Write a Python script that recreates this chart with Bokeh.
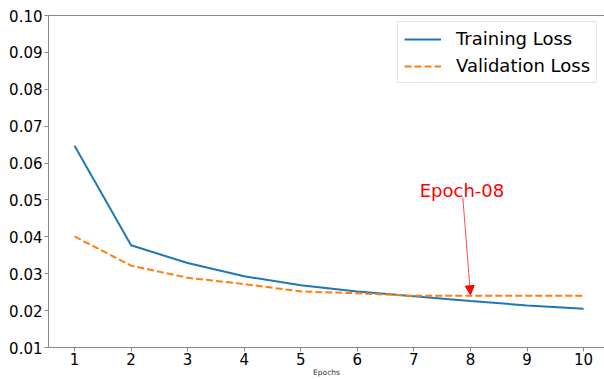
from bokeh.plotting import figure
from bokeh.models import (Range1d, FixedTicker, PrintfTickFormatter, LinearAxis,
                          Legend, LegendItem, Label, Arrow, NormalHead)
from bokeh.embed import file_html
from bokeh.resources import INLINE

epochs = [1, 2, 3, 4, 5, 6, 7, 8, 9, 10]
training_loss = [0.0647, 0.0377, 0.0329, 0.0293, 0.0269, 0.0252, 0.0239, 0.0226, 0.0214, 0.0205]
validation_loss = [0.0401, 0.0322, 0.0289, 0.0272, 0.0252, 0.0247, 0.0240, 0.0240, 0.0240, 0.0240]
y_ticks = [0.01, 0.02, 0.03, 0.04, 0.05, 0.06, 0.07, 0.08, 0.09, 0.10]
annot_text = "Epoch-08"
annot_xy = (8, 0.0243)
annot_text_xy = (7.85, 0.0526)
annot_tail_xy = (7.865, 0.0507)

FONT = "DejaVu Sans"
AX = "#888888"

p = figure(width=604, height=379, output_backend="svg", toolbar_location=None,
           x_range=Range1d(0.54, 10.37), y_range=Range1d(0.01, 0.10),
           min_border_left=48, min_border_top=15, min_border_right=0, min_border_bottom=31)
p.grid.visible = False
p.outline_line_color = None
p.background_fill_color = "white"
p.border_fill_color = "white"

for ax in (p.xaxis[0], p.yaxis[0]):
    ax.axis_line_color = AX
    ax.major_tick_line_color = AX
    ax.minor_tick_line_color = None
    ax.major_tick_out = 4
    ax.major_tick_in = 0
    ax.major_label_standoff = 2
    ax.major_label_text_font = FONT
    ax.major_label_text_font_size = "15px"
    ax.major_label_text_color = "black"

p.xaxis[0].major_label_standoff = 1
p.xaxis[0].ticker = FixedTicker(ticks=epochs)
p.yaxis[0].ticker = FixedTicker(ticks=y_ticks)
p.yaxis[0].formatter = PrintfTickFormatter(format="%.2f")
p.xaxis[0].axis_label = "Epochs"
p.xaxis[0].axis_label_text_font = FONT
p.xaxis[0].axis_label_text_font_size = "7.5px"
p.xaxis[0].axis_label_text_font_style = "normal"
p.xaxis[0].axis_label_text_color = "#333333"
p.xaxis[0].axis_label_standoff = 0

top = LinearAxis(axis_line_color=AX, major_tick_line_color=None, minor_tick_line_color=None,
                 major_label_text_font_size="0px", ticker=FixedTicker(ticks=[]))
p.add_layout(top, "above")

r1 = p.line(epochs, training_loss, line_color="#1f77b4", line_width=2)
r2 = p.line(epochs, validation_loss, line_color="#ff7f0e", line_width=2, line_dash="7 3")

legend = Legend(items=[LegendItem(label="Training Loss", renderers=[r1]),
                       LegendItem(label="Validation Loss", renderers=[r2])],
                location=(349, 264), label_text_font=FONT, label_text_font_size="18px",
                label_text_color="black", glyph_width=37, glyph_height=20, label_height=20,
                label_standoff=15, spacing=6, padding=6, margin=0,
                border_line_color="#cccccc", border_line_width=1,
                background_fill_alpha=0.8)
p.add_layout(legend)

p.add_layout(Arrow(end=NormalHead(size=9, fill_color="red", line_color="red"),
                   x_start=annot_tail_xy[0], y_start=annot_tail_xy[1],
                   x_end=annot_xy[0], y_end=annot_xy[1],
                   line_color="red", line_width=1, line_alpha=0.7))
p.add_layout(Label(x=annot_text_xy[0], y=annot_text_xy[1], text=annot_text,
                   text_align="center", text_baseline="alphabetic",
                   text_font=FONT, text_font_size="18px", text_color="red"))

open("out.html", "w").write(file_html(p, INLINE))
